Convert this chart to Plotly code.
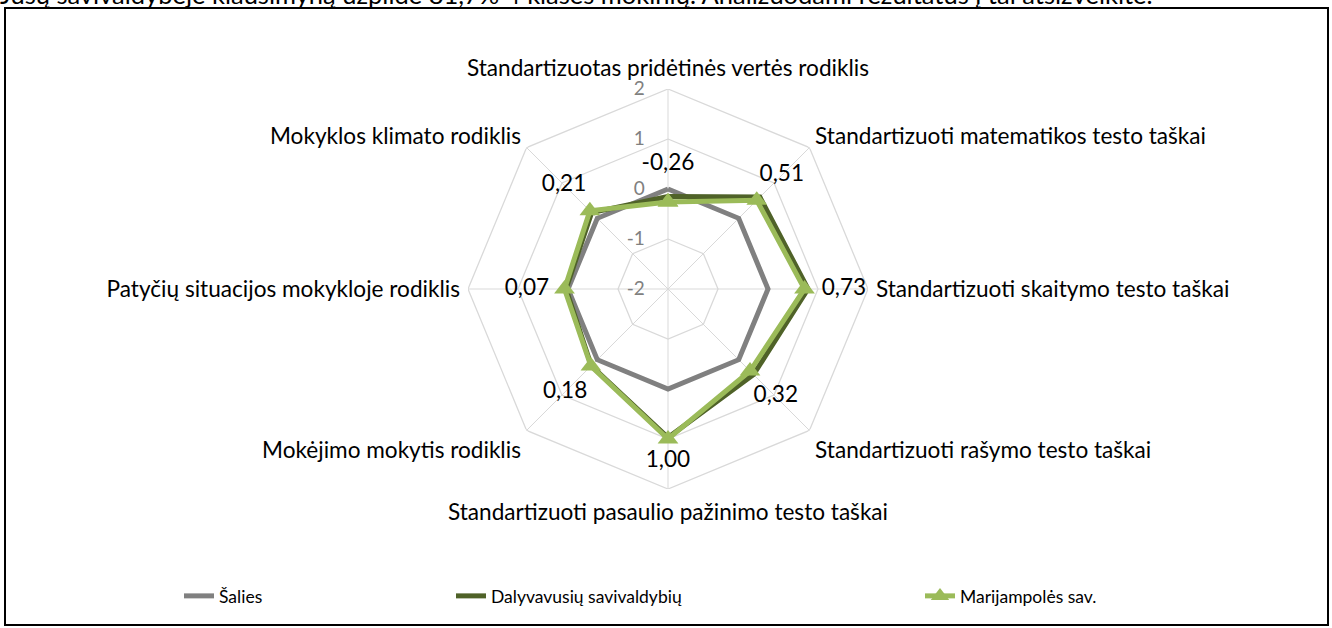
import plotly.graph_objects as go

categories = [
    "Standartizuotas pridėtinės vertės rodiklis",
    "Standartizuoti matematikos testo taškai",
    "Standartizuoti skaitymo testo taškai",
    "Standartizuoti rašymo testo taškai",
    "Standartizuoti pasaulio pažinimo testo taškai",
    "Mokėjimo mokytis rodiklis",
    "Patyčių situacijos mokykloje rodiklis",
    "Mokyklos klimato rodiklis",
]
salies = [0.0, 0.0, 0.0, 0.0, 0.0, 0.0, 0.0, 0.0]
dalyvavusiu = [-0.15, 0.60, 0.80, 0.42, 0.97, 0.17, 0.04, 0.16]
marijampoles = [-0.26, 0.51, 0.73, 0.32, 1.00, 0.18, 0.07, 0.21]
series_names = ["Šalies", "Dalyvavusių savivaldybių", "Marijampolės sav."]
radial_ticks = [-2, -1, 0, 1, 2]
top_note = ("Jūsų savivaldybėje klausimyną užpildė 81,7% 4 klasės mokinių. "
            "Analizuodami rezultatus į tai atsižvelkite.")

# styling / label placement (not data)
label_offsets = [0.75, 0.71, 0.79, 0.73, 0.44, 0.73, 0.75, 0.73]
colors = ["#808080", "#4F6228", "#9BBB59"]
GRID = "#D9D9D9"
FONT = "Lato"
W, H = 1332, 628


def closed(v):
    return list(v) + [v[0]]


theta_c = closed(categories)
fig = go.Figure()

# octagonal grid rings drawn through the polar scales
for t in radial_ticks:
    if t == radial_ticks[0]:
        continue
    fig.add_trace(go.Scatterpolar(
        r=[t] * len(theta_c), theta=theta_c, mode="lines",
        line=dict(color=GRID, width=1.3), showlegend=False, hoverinfo="skip",
        cliponaxis=False))

fig.add_trace(go.Scatterpolar(
    r=closed(salies), theta=theta_c, mode="lines", name=series_names[0],
    line=dict(color=colors[0], width=5), legend="legend"))
fig.add_trace(go.Scatterpolar(
    r=closed(dalyvavusiu), theta=theta_c, mode="lines", name=series_names[1],
    line=dict(color=colors[1], width=5), legend="legend2"))
fig.add_trace(go.Scatterpolar(
    r=closed(marijampoles), theta=theta_c, mode="lines+markers", name=series_names[2],
    line=dict(color=colors[2], width=5),
    marker=dict(symbol="triangle-up", size=18, color=colors[2]),
    legend="legend3", cliponaxis=False))
fig.add_trace(go.Scatterpolar(
    r=[v + o for v, o in zip(marijampoles, label_offsets)], theta=categories,
    mode="text", text=[f"{v:.2f}".replace(".", ",") for v in marijampoles],
    textfont=dict(family=FONT, size=22.6, color="black"), textposition="middle center",
    showlegend=False, hoverinfo="skip", cliponaxis=False))

cx, cy, R = 668, 289, 200
leg_y = (H - 596) / H
fig.update_layout(
    width=W, height=H,
    margin=dict(l=0, r=0, t=0, b=0),
    paper_bgcolor="white",
    font=dict(family=FONT, size=18, color="black"),
    polar=dict(
        domain=dict(x=[(cx - R) / W, (cx + R) / W], y=[(H - cy - R) / H, (H - cy + R) / H]),
        bgcolor="white",
        gridshape="circular",
        radialaxis=dict(
            range=[-2, 2], tickvals=radial_ticks, ticktext=[str(t) for t in radial_ticks],
            angle=90, tickangle=90, side="counterclockwise", showline=False,
            ticks="outside", ticklen=16, tickcolor="rgba(0,0,0,0)",
            showgrid=False,
            tickfont=dict(family=FONT, size=19, color="#808080")),
        angularaxis=dict(
            rotation=90, direction="clockwise", categoryarray=categories,
            showline=False, gridcolor=GRID, gridwidth=1.3,
            ticks="outside", ticklen=3, tickcolor="rgba(0,0,0,0)",
            tickfont=dict(family=FONT, size=22.6, color="black")),
    ),
    legend=dict(x=179 / W, y=leg_y, yanchor="middle", xanchor="left",
                bgcolor="rgba(0,0,0,0)", font=dict(family=FONT, size=17.5)),
    legend2=dict(x=451 / W, y=leg_y, yanchor="middle", xanchor="left",
                 bgcolor="rgba(0,0,0,0)", font=dict(family=FONT, size=17.5)),
    legend3=dict(x=920 / W, y=leg_y, yanchor="middle", xanchor="left",
                 bgcolor="rgba(0,0,0,0)", font=dict(family=FONT, size=17.5)),
    shapes=[dict(type="rect", xref="paper", yref="paper",
                 x0=5 / W, x1=1328 / W, y0=(H - 625) / H, y1=(H - 8) / H,
                 line=dict(color="black", width=2), fillcolor="rgba(0,0,0,0)")],
    annotations=[dict(text=top_note, xref="paper", yref="paper", x=-2 / W, y=1 + 6 / H,
                      xanchor="left", yanchor="middle", showarrow=False,
                      font=dict(family=FONT, size=25.5, color="black"))],
)

fig.write_html("out.html", config={"displayModeBar": False},
               post_script="document.body.style.margin='0';"
               "document.body.style.overflow='hidden';")
